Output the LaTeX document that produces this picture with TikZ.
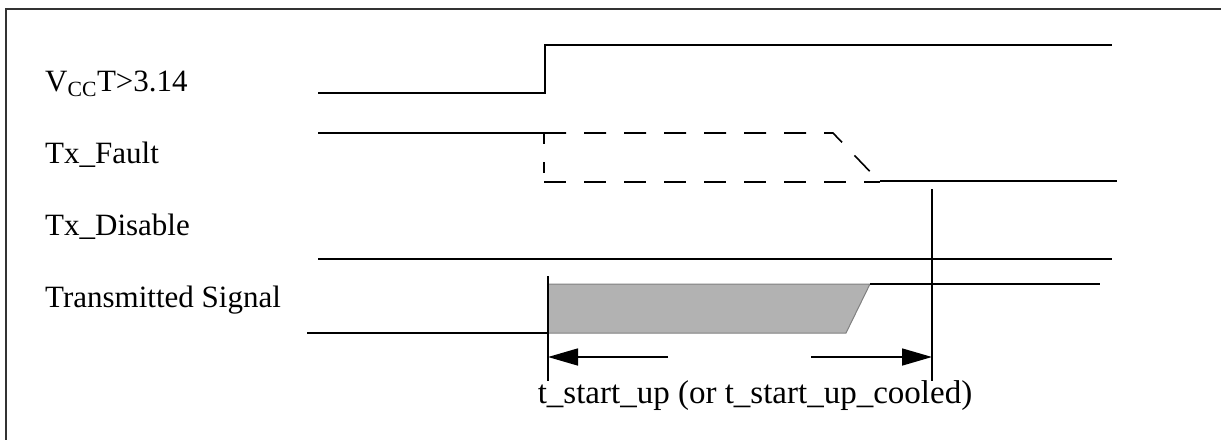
\documentclass[tikz,border=0pt]{standalone}
\usepackage{fontspec}
\setmainfont{Liberation Serif}
\usetikzlibrary{arrows.meta}
\begin{document}
\begin{tikzpicture}[x=1pt,y=-1pt,
  sig/.style={line width=1.6pt,black},
  dsig/.style={line width=1.6pt,black,dash pattern=on 22pt off 18pt},
  lbl/.style={anchor=base west,inner sep=0pt,font=\fontsize{31}{37}\selectfont},
  dim/.style={line width=1.6pt,-{Triangle[length=30pt,width=17pt]}}]
\useasboundingbox (0,0) rectangle (1221,440);
% frame (top and left only)
\draw[line width=2pt,black!80] (1221,9) -- (6,9) -- (6,440);
% labels
\node[lbl] (lvcc) at (45,91) {V\textsubscript{CC}T>3.14};
\node[lbl] (lfault) at (45,163) {Tx\_Fault};
\node[lbl] (ldis) at (45,235) {Tx\_Disable};
\node[lbl] (lsig) at (45,307) {Transmitted Signal};
% VCC
\draw[sig] (318,93) -- (545,93) -- (545,45) -- (1112,45);
% Tx_Fault
\draw[sig] (318,133) -- (545,133);
\draw[dsig] (544,133) -- (833,133) -- (880,182);
\draw[sig,dash pattern=on 11pt off 18pt] (544,133) -- (544,182);
\draw[dsig] (544,182) -- (880,182);
\draw[sig] (880,181) -- (1117,181);
% Tx_Disable
\draw[sig] (318,259) -- (1112,259);
% Transmitted signal
\draw[fill=black!30,draw=black!50,line width=1pt] (548,284) -- (870,284) -- (846,333) -- (548,333) -- cycle;
\draw[sig] (307,333) -- (548,333);
\draw[sig] (870,284) -- (1100,284);
% markers
\draw[sig] (548,276) coordinate (ma) -- (548,381);
\draw[sig] (932,189) coordinate (mb) -- (932,381);
\coordinate (a1) at (668,357);
\coordinate (a2) at (548,357);
\coordinate (b1) at (811,357);
\coordinate (b2) at (932,357);
\draw[dim] (a1) -- (a2);
\draw[dim] (b1) -- (b2);
\node[lbl,anchor=base,font=\fontsize{33}{39}\selectfont] (tlab) at (755,403) {t\_start\_up (or t\_start\_up\_cooled)};
\end{tikzpicture}
\end{document}
